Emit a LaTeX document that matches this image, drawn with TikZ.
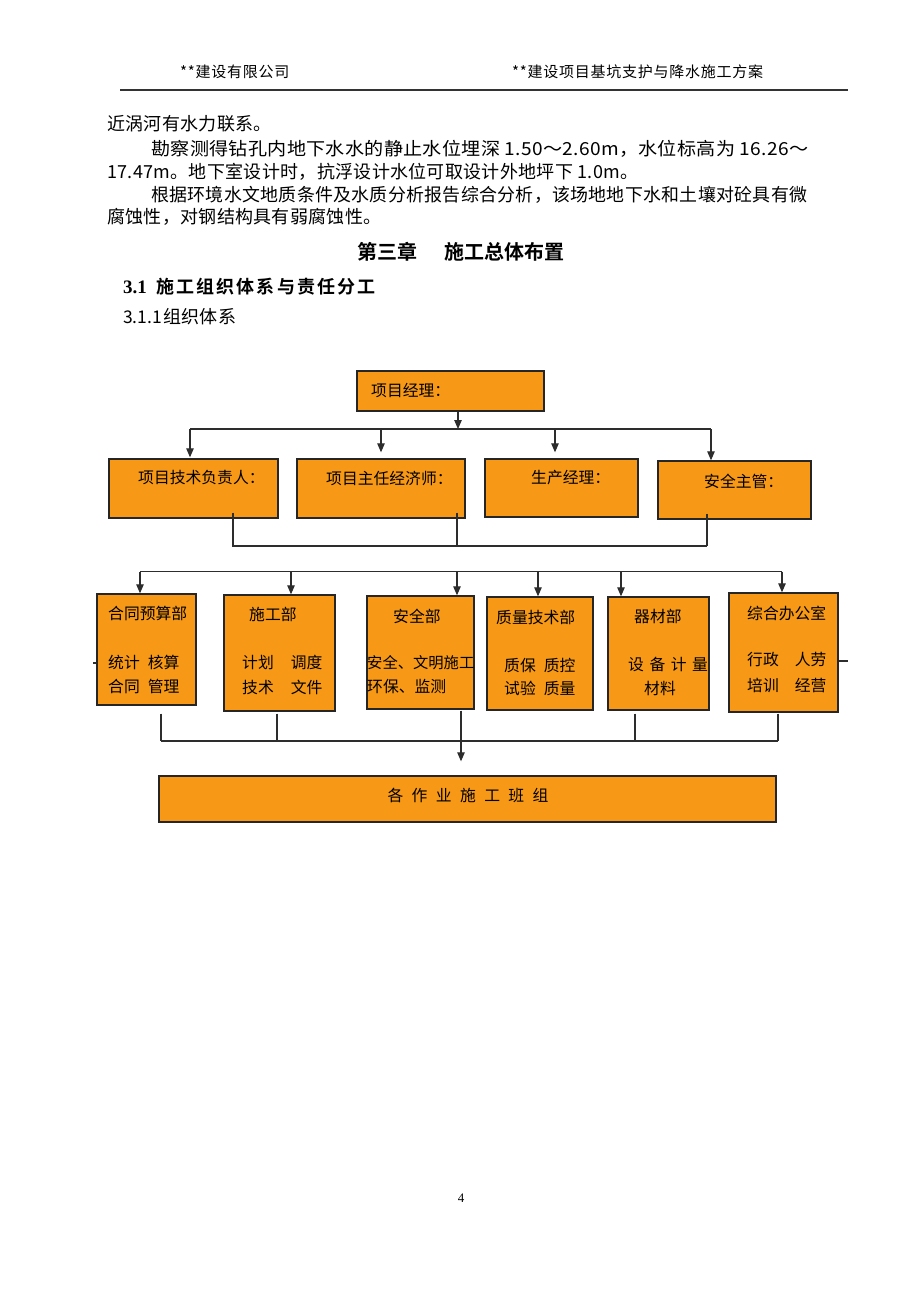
\documentclass[tikz,border=0pt]{standalone}
\usepackage{fontspec}
\usepackage{graphicx}
\usetikzlibrary{arrows.meta,calc}
\newfontfamily\cjk{Noto Sans CJK SC}
\newfontfamily\cjkls{Noto Sans CJK SC}[LetterSpace=1.7]
\newfontfamily\cjkhd{Noto Sans CJK SC}[LetterSpace=5]
\newfontfamily\cjkb{Noto Sans CJK SC Bold}
\newfontfamily\cjkbs{Noto Sans CJK SC Bold}[LetterSpace=12]
\newfontfamily\tnr{Liberation Serif}
\definecolor{boxorange}{RGB}{247,153,22}
\definecolor{linegray}{RGB}{45,45,45}
\begin{document}
\begin{tikzpicture}[x=1pt,y=-1pt,
  box/.style={draw=black!85, line width=1.4pt, fill=boxorange, inner sep=0pt},
  conn/.style={draw=linegray, line width=1.1pt},
  arr/.style={conn, -{Triangle[length=9pt,width=7.5pt]}},
  lbl/.style={inner sep=0pt, anchor=west, font=\cjk\fontsize{15.8}{18}\selectfont, text=black},
  bodytxt/.style={inner sep=0pt, anchor=west, font=\cjkls\fontsize{18}{20}\selectfont, text=black},
  headtxt/.style={inner sep=0pt, anchor=west, font=\cjkhd\fontsize{15}{18}\selectfont, text=black},
  ]
\fill[white] (0,0) rectangle (920,1302);
\useasboundingbox (0,0) rectangle (920,1302);

% header
\node[headtxt] (hl) at (180,72) {**建设有限公司};
\node[headtxt] (hr) at (512,72) {**建设项目基坑支护与降水施工方案};
\draw[black!80, line width=2pt] (120,89.5) -- (848,89.5);

% body text
\node[bodytxt] (l1) at (107,124) {近涡河有水力联系。};
\node[bodytxt] (l2) at (151,149) {\resizebox{657pt}{\height}{勘察测得钻孔内地下水水的静止水位埋深 1.50～2.60m，水位标高为 16.26～}};
\node[bodytxt] (l3) at (107,172) {17.47m。地下室设计时，抗浮设计水位可取设计外地坪下 1.0m。};
\node[bodytxt] (l4) at (151,195) {\resizebox{656pt}{\height}{根据环境水文地质条件及水质分析报告综合分析，该场地地下水和土壤对砼具有微}};
\node[bodytxt] (l5) at (107,217) {腐蚀性，对钢结构具有弱腐蚀性。};

% headings
\node[inner sep=0pt, anchor=west, font=\cjkb\fontsize{20}{22}\selectfont] (ch) at (357,252) {第三章\hspace{27pt}施工总体布置};
\node[inner sep=0pt, anchor=west, font=\tnr\bfseries\fontsize{19}{20}\selectfont] (s31n) at (123,287) {3.1};
\node[inner sep=0pt, anchor=west, font=\cjkbs\fontsize{18}{20}\selectfont] (s31) at (156,287) {施工组织体系与责任分工};
\node[inner sep=0pt, anchor=west, font=\cjk\fontsize{17.5}{20}\selectfont] (s311n) at (123,317) {3.1.1};
\node[inner sep=0pt, anchor=west, font=\cjkls\fontsize{18}{20}\selectfont] (s311) at (163,317) {组织体系};

% boxes
\node[box, minimum width=187pt, minimum height=40pt] (pm) at (450.5,391) {};
\node[box, minimum width=169pt, minimum height=59pt] (b1) at (193.5,488.5) {};
\node[box, minimum width=168pt, minimum height=59pt] (b2) at (381,488.5) {};
\node[box, minimum width=153pt, minimum height=58pt] (b3) at (561.5,488) {};
\node[box, minimum width=153pt, minimum height=58pt] (b4) at (734.5,490) {};
\node[box, minimum width=99pt, minimum height=111pt] (d1) at (146.5,649.5) {};
\node[box, minimum width=111pt, minimum height=116pt] (d2) at (279.5,653) {};
\node[box, minimum width=107pt, minimum height=113pt] (d3) at (420.5,652.5) {};
\node[box, minimum width=106pt, minimum height=113pt] (d4) at (540,653.5) {};
\node[box, minimum width=101pt, minimum height=113pt] (d5) at (658.5,653.5) {};
\node[box, minimum width=109pt, minimum height=119pt] (d6) at (783.5,652.5) {};
\node[box, minimum width=617pt, minimum height=46pt] (team) at (467.5,799) {};

% box texts
\node[lbl] (pmt) at (371,390) {项目经理：};
\node[lbl] (b1t) at (138,478) {项目技术负责人：};
\node[lbl] (b2t) at (326,478) {项目主任经济师：};
\node[lbl] (b3t) at (531,478) {生产经理：};
\node[lbl] (b4t) at (704,481) {安全主管：};

\node[lbl] (d1a) at (108,613) {合同预算部};
\node[lbl] (d1b) at (108,662) {统计\hspace{8pt}核算};
\node[lbl] (d1c) at (108,686) {合同\hspace{8pt}管理};
\node[lbl] (d2a) at (249,614) {施工部};
\node[lbl] (d2b) at (242,662) {计划\hspace{17pt}调度};
\node[lbl] (d2c) at (242,687) {技术\hspace{17pt}文件};
\node[lbl] (d3a) at (393,616) {安全部};
\node[lbl, font=\cjk\fontsize{15.3}{18}\selectfont] (d3b) at (367,663) {安全、文明施工};
\node[lbl] (d3c) at (367,687) {环保、监测};
\node[lbl] (d4a) at (496,617) {质量技术部};
\node[lbl] (d4b) at (504,665) {质保\hspace{8pt}质控};
\node[lbl] (d4c) at (504,688) {试验\hspace{8pt}质量};
\node[lbl] (d5a) at (634,616) {器材部};
\node[lbl] (d5b) at (628,664) {设\hspace{5.5pt}备\hspace{5.5pt}计\hspace{5.5pt}量};
\node[lbl] (d5c) at (644,688) {材料};
\node[lbl] (d6a) at (747,613) {综合办公室};
\node[lbl] (d6b) at (747,660) {行政\hspace{16pt}人劳};
\node[lbl] (d6c) at (747,685) {培训\hspace{16pt}经营};
\node[lbl, anchor=center] (teamt) at (468,795) {各\hspace{8.4pt}作\hspace{8.4pt}业\hspace{8.4pt}施\hspace{8.4pt}工\hspace{8.4pt}班\hspace{8.4pt}组};

% level 1 connectors
\coordinate (hub) at (458,429);
\coordinate (t1) at (190,429);
\coordinate (t2) at (381,429);
\coordinate (t3) at (555,429);
\coordinate (t4) at (711,429);
\draw[arr] (hub |- pm.south) -- (hub);
\draw[conn] (t1) -- (t4);
\draw[arr] (t1) -- ($(t1 |- b1.north)+(0,-1)$);
\draw[arr] (t2) -- ($(t2 |- b2.north)+(0,-6)$);
\draw[arr] (t3) -- ($(t3 |- b3.north)+(0,-6)$);
\draw[arr] (t4) -- (t4 |- b4.north);

% level 2 bottom
\coordinate (u1) at (233,546);
\coordinate (u2) at (457,546);
\coordinate (u4) at (707,546);
\draw[conn] ($(u1 |- b1.south)+(0,-6)$) -- (u1) -- (u4);
\draw[conn] ($(u2 |- b2.south)+(0,-6)$) -- (u2);
\draw[conn] ($(u4 |- b4.south)+(0,-6)$) -- (u4);

% level 3 top
\coordinate (v1) at (140,571.5);
\coordinate (v2) at (291,571.5);
\coordinate (v3) at (457,571.5);
\coordinate (v4) at (538,571.5);
\coordinate (v5) at (621,571.5);
\coordinate (v6) at (782,571.5);
\draw[conn] (v1) -- (v6);
\draw[arr] (v1) -- (v1 |- d1.north);
\draw[arr] (v2) -- (v2 |- d2.north);
\draw[arr] (v3) -- (v3 |- d3.north);
\draw[arr] (v4) -- (v4 |- d4.north);
\draw[arr] (v5) -- (v5 |- d5.north);
\draw[arr] (v6) -- (v6 |- d6.north);

% level 3 bottom
\coordinate (w1) at (161,741);
\coordinate (w2) at (277,741);
\coordinate (w3) at (461,741);
\coordinate (w5) at (635,741);
\coordinate (w6) at (778,741);
\draw[conn] (w1) -- (w6);
\draw[conn] ($(w1 |- d1.south)+(0,8)$) -- (w1);
\draw[conn] ($(w2 |- d2.south)+(0,2)$) -- (w2);
\draw[conn] ($(w3 |- d3.south)+(0,1)$) -- (w3);
\draw[conn] ($(w5 |- d5.south)+(0,3)$) -- (w5);
\draw[conn] ($(w6 |- d6.south)+(0,1)$) -- (w6);
\draw[arr] (w3) -- ($(w3 |- team.north)+(0,-14)$);

% small ticks
\draw[conn] ($(d1.west)+(-3,13.5)$) -- ($(d1.west)+(0,13.5)$);
\draw[conn] ($(d6.east)+(0,8.5)$) -- ($(d6.east)+(9,8.5)$);

% page number
\node[inner sep=0pt, font=\tnr\fontsize{13}{14}\selectfont] (pg) at (461,1198) {4};
\end{tikzpicture}
\end{document}
